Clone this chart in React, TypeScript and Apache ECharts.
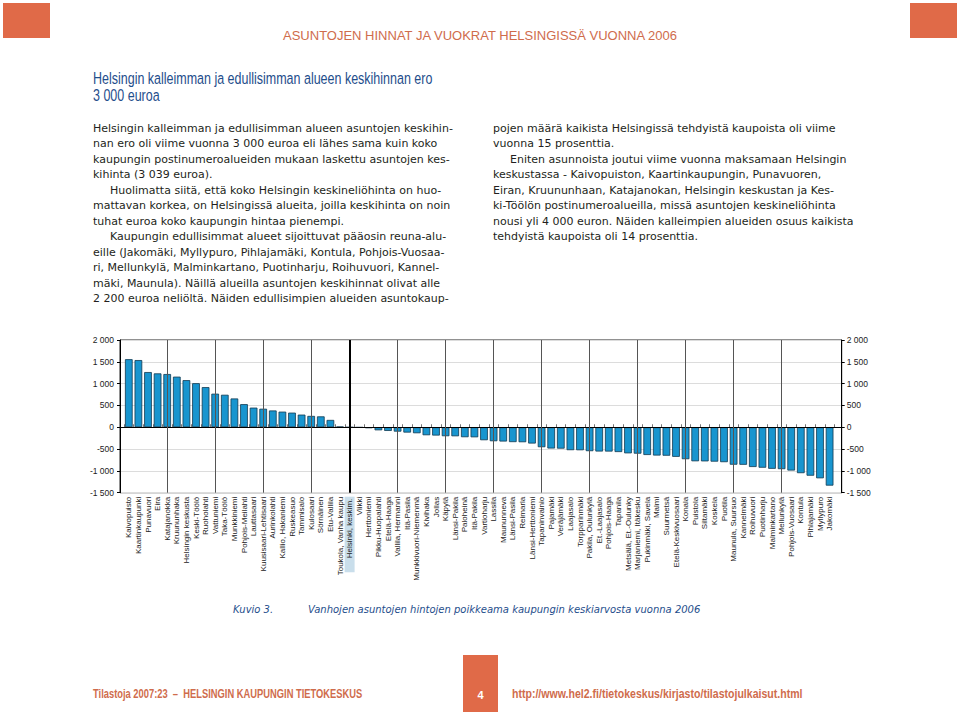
import React, { useEffect, useRef } from 'react';
import * as echarts from 'echarts';

const categories = [
  'Kaivopuisto', 'Kaartinkaupunki', 'Punavuori', 'Eira', 'Katajanokka', 'Kruununhaka',
  'Helsingin keskusta', 'Keski-Töölö', 'Ruoholahti', 'Vattuniemi', 'Taka-Töölö', 'Munkkiniemi',
  'Pohjois-Meilahti', 'Lauttasaari', 'Kuusisaari-Lehtisaari', 'Aurinkolahti', 'Kallio, Hakaniemi',
  'Ruskeasuo', 'Tammisalo', 'Kulosaari', 'Sörnäinen', 'Etu-Vallila', 'Toukola, Vanha kaupu',
  'Helsinki, keskim.', 'Viikki', 'Herttoniemi', 'Pikku-Huopalahti', 'Etelä-Haaga', 'Vallila, Hermanni',
  'Itä-Pasila', 'Munkkivuori-Niemenmä', 'Kivihaka', 'Jollas', 'Käpylä', 'Länsi-Pakila', 'Paloheinä',
  'Itä-Pakila', 'Vartioharju', 'Lassila', 'Maununneva', 'Länsi-Pasila', 'Reimarla', 'Länsi-Herttoniemi',
  'Tapaninvainio', 'Pajamäki', 'Veräjämäki', 'Laajasalo', 'Torpparinmäki', 'Pakila, Oulunkylä',
  'Et.-Laajasalo', 'Pohjois-Haaga', 'Tapanila', 'Metsälä, Et.-Oulunky', 'Marjaniemi, Itäkesku',
  'Pukinmäki, Savela', 'Malmi', 'Suurmetsä', 'Etelä-Keskivuosaari', 'Konala', 'Puistola', 'Siltamäki',
  'Koskela', 'Puotila', 'Maunula, Suursuo', 'Kannelmäki', 'Roihuvuori', 'Puotinharju', 'Malminkartano',
  'Mellunkylä', 'Pohjois-Vuosaari', 'Kontula', 'Pihlajamäki', 'Myllypuro', 'Jakomäki',
];

const deviation = [
  1560, 1540, 1265, 1235, 1220, 1160,
  1080, 1010, 920, 770, 745, 660,
  530, 450, 425, 385, 358,
  335, 290, 260, 250, 168, 15,
  0, -5, -20, -70, -84, -100,
  -122, -137, -183, -190, -205, -207, -228,
  -230, -297, -320, -327, -340, -343, -373,
  -457, -487, -490, -525, -527, -548,
  -556, -557, -568, -598, -605,
  -636, -648, -652, -678, -732, -780, -782,
  -788, -800, -858, -860, -911, -927, -952,
  -960, -992, -1052, -1110, -1170, -1338,
];

const averageCategory = 'Helsinki, keskim.';
const gridCategoryIndexes = [4, 9, 14, 19, 28, 33, 38, 43, 48, 53, 58, 63, 68];
const yMin = -1500;
const yMax = 2000;
const yStep = 500;

const pageTitle = 'ASUNTOJEN HINNAT JA VUOKRAT HELSINGISSÄ VUONNA 2006';
const headingLines = ['Helsingin kalleimman ja edullisimman alueen keskihinnan ero', '3 000 euroa'];
const leftColumn = [
  'Helsingin kalleimman ja edullisimman alueen asuntojen keskihin-',
  'nan ero oli viime vuonna 3 000 euroa eli lähes sama kuin koko',
  'kaupungin postinumeroalueiden mukaan laskettu asuntojen kes-',
  'kihinta (3 039 euroa).',
  'Huolimatta siitä, että koko Helsingin keskineliöhinta on huo-',
  'mattavan korkea, on Helsingissä alueita, joilla keskihinta on noin',
  'tuhat euroa koko kaupungin hintaa pienempi.',
  'Kaupungin edullisimmat alueet sijoittuvat pääosin reuna-alu-',
  'eille (Jakomäki, Myllypuro, Pihlajamäki, Kontula, Pohjois-Vuosaa-',
  'ri, Mellunkylä, Malminkartano, Puotinharju, Roihuvuori, Kannel-',
  'mäki, Maunula). Näillä alueilla asuntojen keskihinnat olivat alle',
  '2 200 euroa neliöltä. Näiden edullisimpien alueiden asuntokaup-',
];
const leftIndented = [4, 7];
const rightColumn = [
  'pojen määrä kaikista Helsingissä tehdyistä kaupoista oli viime',
  'vuonna 15 prosenttia.',
  'Eniten asunnoista joutui viime vuonna maksamaan Helsingin',
  'keskustassa - Kaivopuiston, Kaartinkaupungin, Punavuoren,',
  'Eiran, Kruununhaan, Katajanokan, Helsingin keskustan ja Kes-',
  'ki-Töölön postinumeroalueilla, missä asuntojen keskineliöhinta',
  'nousi yli 4 000 euron. Näiden kalleimpien alueiden osuus kaikista',
  'tehdyistä kaupoista oli 14 prosenttia.',
];
const rightIndented = [2];
const captionLabel = 'Kuvio 3.';
const captionText = 'Vanhojen asuntojen hintojen poikkeama kaupungin keskiarvosta vuonna 2006';
const footerLeft = 'Tilastoja 2007:23  –  HELSINGIN KAUPUNGIN TIETOKESKUS';
const footerPage = '4';
const footerUrl = 'http://www.hel2.fi/tietokeskus/kirjasto/tilastojulkaisut.html';

const ORANGE = '#e06a48';
const ORANGE_TEXT = '#cf6c4c';
const BLUE_TEXT = '#1f4e8c';
const BODY = '#231f20';

function fmt(v: number): string {
  const s = Math.abs(v).toString();
  const t = s.length > 3 ? s.slice(0, -3) + ' ' + s.slice(-3) : s;
  return (v < 0 ? '-' : '') + t;
}

export default function App() {
  const ref = useRef<HTMLDivElement>(null);

  useEffect(() => {
    if (!ref.current) return;
    const chart = echarts.init(ref.current, undefined, { renderer: 'svg' });

    const bodyFont = '11px "DejaVu Sans"';
    const graphics: any[] = [];
    graphics.push({ type: 'rect', shape: { x: 3, y: 3, width: 47, height: 35 }, style: { fill: ORANGE } });
    graphics.push({ type: 'rect', shape: { x: 910, y: 3, width: 47, height: 35 }, style: { fill: ORANGE } });
    graphics.push({
      type: 'text', x: 480, y: 35,
      style: { text: pageTitle, font: '13px "Liberation Sans"', fill: ORANGE_TEXT, textAlign: 'center', textVerticalAlign: 'middle' },
    });
    headingLines.forEach((line, i) => {
      graphics.push({
        type: 'text', x: 93, y: 78 + i * 17, scaleX: 0.735,
        style: { text: line, font: '17px "Liberation Sans"', fill: BLUE_TEXT, textVerticalAlign: 'middle' },
      });
    });
    leftColumn.forEach((line, i) => {
      graphics.push({
        type: 'text', x: leftIndented.includes(i) ? 110 : 93, y: 128 + i * 15.5,
        style: { text: line, font: bodyFont, fill: BODY, textVerticalAlign: 'middle' },
      });
    });
    rightColumn.forEach((line, i) => {
      graphics.push({
        type: 'text', x: rightIndented.includes(i) ? 510 : 493, y: 128 + i * 15.5,
        style: { text: line, font: bodyFont, fill: BODY, textVerticalAlign: 'middle' },
      });
    });
    graphics.push({
      type: 'text', x: 233, y: 609,
      style: { text: captionLabel, font: 'italic 10px "DejaVu Sans"', fill: BLUE_TEXT, textVerticalAlign: 'middle' },
    });
    graphics.push({
      type: 'text', x: 308, y: 609,
      style: { text: captionText, font: 'italic 10px "DejaVu Sans"', fill: BLUE_TEXT, textVerticalAlign: 'middle' },
    });
    graphics.push({ type: 'rect', shape: { x: 463, y: 655, width: 35, height: 57 }, style: { fill: ORANGE } });
    graphics.push({
      type: 'text', x: 480.5, y: 695,
      style: { text: footerPage, font: 'bold 11px "Liberation Sans"', fill: '#ffffff', textAlign: 'center', textVerticalAlign: 'middle' },
    });
    graphics.push({
      type: 'text', x: 93, y: 694, scaleX: 0.78,
      style: { text: footerLeft, font: 'bold 12px "Liberation Sans"', fill: ORANGE_TEXT, textVerticalAlign: 'middle' },
    });
    graphics.push({
      type: 'text', x: 512, y: 694, scaleX: 0.88,
      style: { text: footerUrl, font: 'bold 12px "Liberation Sans"', fill: ORANGE_TEXT, textVerticalAlign: 'middle' },
    });

    const axisFont = { fontFamily: '"Liberation Sans", Arial, sans-serif', fontSize: 8.5, color: '#222' };

    const option: any = {
      animation: false,
      backgroundColor: '#ffffff',
      graphic: graphics,
      grid: [
        { left: 120, top: 340, width: 721.7, height: 152.7, show: true, borderColor: '#222', borderWidth: 1, containLabel: false },
        { left: 124, top: 340, width: 710.4, height: 152.7, containLabel: false },
      ],
      xAxis: [
        { type: 'value', gridIndex: 0, min: 0, max: 1, show: false },
        {
          type: 'category', gridIndex: 1, data: categories, boundaryGap: true,
          axisLine: { show: false },
          axisTick: { show: true, inside: true, length: 3, interval: 0, lineStyle: { color: '#777' } },
          splitLine: { show: false },
          axisLabel: {
            interval: 0, rotate: 90, margin: 4,
            fontFamily: '"Liberation Sans", Arial, sans-serif', fontSize: 8, color: '#222',
            formatter: (v: string) => (v === averageCategory ? `{hl|${v}}` : v),
            rich: {
              hl: {
                backgroundColor: '#c9deeb', padding: [1, 2, 1, 14],
                fontFamily: '"Liberation Sans", Arial, sans-serif', fontSize: 8, color: '#222',
              },
            },
          },
        },
      ],
      yAxis: [
        {
          type: 'value', gridIndex: 0, position: 'left', min: yMin, max: yMax, interval: yStep,
          axisLine: { show: true, lineStyle: { color: '#000' } },
          axisTick: { show: true, length: 3, lineStyle: { color: '#000' } },
          axisLabel: { ...axisFont, margin: 6, formatter: (v: number) => fmt(v) },
          splitLine: { show: true, lineStyle: { color: '#dcdcdc', width: 1 } },
        },
        {
          type: 'value', gridIndex: 0, position: 'right', min: yMin, max: yMax, interval: yStep,
          axisLine: { show: true, lineStyle: { color: '#000' } },
          axisTick: { show: true, length: 3, lineStyle: { color: '#000' } },
          axisLabel: { ...axisFont, margin: 5, formatter: (v: number) => fmt(v) },
          splitLine: { show: false },
        },
        { type: 'value', gridIndex: 1, min: yMin, max: yMax, interval: yStep, show: false, splitLine: { show: false } },
      ],
      series: [
        {
          type: 'line', xAxisIndex: 0, yAxisIndex: 0, data: [], silent: true,
          markLine: {
            silent: true, symbol: ['none', 'none'], label: { show: false },
            lineStyle: { color: '#000', width: 1, type: 'solid' },
            data: [{ yAxis: 0 }],
          },
        },
        {
          type: 'bar', xAxisIndex: 1, yAxisIndex: 2, data: deviation, barWidth: '80%',
          itemStyle: { color: '#1895cf', borderColor: '#123a50', borderWidth: 0.8 },
          markLine: {
            silent: true, symbol: ['none', 'none'], label: { show: false },
            lineStyle: { color: '#555', width: 1, type: 'solid' },
            data: [
              ...gridCategoryIndexes.map((i) => ({ xAxis: categories[i] })),
              { xAxis: averageCategory, lineStyle: { color: '#000', width: 2, type: 'solid' } },
            ],
          },
        },
      ],
    };

    chart.setOption(option);
    return () => chart.dispose();
  }, []);

  return (
    <div
      ref={ref}
      style={{ position: 'fixed', left: 0, top: 0, width: 960, height: 712, background: '#fff' }}
    />
  );
}
